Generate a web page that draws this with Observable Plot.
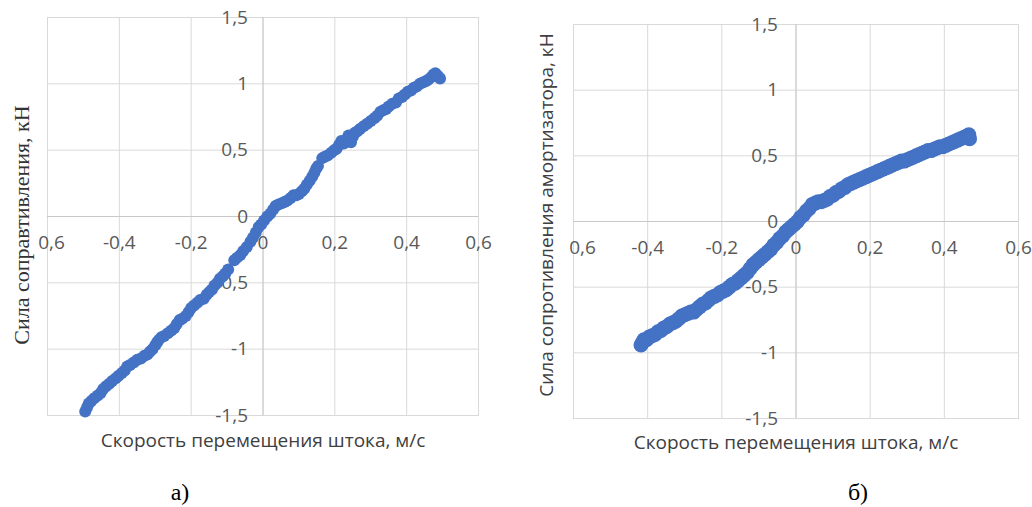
<!DOCTYPE html>
<html>
<head>
<meta charset="utf-8">
<script src="https://cdn.jsdelivr.net/npm/d3@7"></script>
<script src="https://cdn.jsdelivr.net/npm/@observablehq/plot@0.6"></script>
<style>
  html, body { margin: 0; padding: 0; background: #fff; }
  #wrap { position: relative; width: 1032px; height: 507px; overflow: hidden; background: #fff; }
  .panel { position: absolute; top: 0; }
  .cap { position: absolute; font-family: "Liberation Serif", "DejaVu Serif", serif; font-size: 24px; color: #000; transform: translate(-50%, -50%); }
  .ytitle { position: absolute; white-space: nowrap; transform: translate(-50%, -50%) rotate(-90deg); line-height: 1; }
</style>
</head>
<body>
<div id="wrap">
  <div id="pa" class="panel" style="left:0px"></div>
  <div id="pb" class="panel" style="left:520px"></div>
  <div id="ya" class="ytitle" style="left:22px; top:225px; font-family:'Liberation Serif','DejaVu Serif',serif; font-size:22px; color:#333;"></div>
  <div id="yb" class="ytitle" style="left:546px; top:215px; font-family:'Open Sans','Liberation Sans',sans-serif; font-size:19px; color:#404040;"></div>
  <div class="cap" style="left:180px; top:492px">а)</div>
  <div class="cap" style="left:858px; top:492px">б)</div>
</div>
<script>
// ---------- data ----------
const xTickValues = [-0.6, -0.4, -0.2, 0, 0.2, 0.4, 0.6];
const xTickLabels = ["0,6", "-0,4", "-0,2", "0", "0,2", "0,4", "0,6"];
const yTickValues = [-1.5, -1, -0.5, 0, 0.5, 1, 1.5];
const yTickLabels = ["-1,5", "-1", "-0,5", "0", "0,5", "1", "1,5"];

const xTitle = "Скорость перемещения штока, м/с";
const yTitleA = "Сила соправтивления, кН";
const yTitleB = "Сила сопротивления амортизатора, кН";

// Chart а): speed (m/s) vs force (kN)
const speedA = [
  -0.495,-0.49,-0.485,-0.478,-0.47,-0.46,-0.452,-0.445,-0.437,-0.428,-0.42,-0.41,-0.402,-0.393,-0.385,-0.378,-0.37,-0.36,-0.35,-0.34,
  -0.33,-0.322,-0.315,-0.308,-0.3,-0.295,-0.29,-0.283,-0.275,-0.265,-0.255,-0.247,-0.24,-0.232,-0.225,-0.215,-0.207,-0.2,-0.192,-0.183,
  -0.175,-0.165,-0.157,-0.15,-0.142,-0.135,-0.127,-0.12,-0.112,-0.105,-0.097,
  -0.08,-0.072,-0.063,-0.055,-0.045,-0.035,-0.028,
  -0.02,-0.012,-0.005,0.003,0.012,0.02,0.028,0.035,0.043,0.052,0.06,0.068,0.077,0.085,0.093,0.1,0.108,0.115,0.122,0.13,0.137,0.143,0.148,0.153,
  0.165,0.172,0.18,0.19,0.198,0.205,0.212,0.218,0.225,0.232,0.238,0.245,0.25,0.255,0.262,0.27,0.28,0.29,0.3,0.31,0.318,0.327,0.335,0.343,
  0.35,0.36,0.37,0.378,0.387,0.395,0.403,0.412,0.42,0.428,0.437,0.445,0.453,0.46,0.468,0.475,0.48,0.487,0.493
];
const forceA = [
  -1.47,-1.44,-1.41,-1.39,-1.37,-1.35,-1.33,-1.30,-1.28,-1.26,-1.24,-1.22,-1.20,-1.18,-1.16,-1.13,-1.12,-1.10,-1.08,-1.07,
  -1.05,-1.04,-1.02,-1.00,-0.97,-0.95,-0.93,-0.91,-0.90,-0.88,-0.86,-0.84,-0.81,-0.78,-0.77,-0.75,-0.72,-0.69,-0.67,-0.65,
  -0.63,-0.62,-0.59,-0.57,-0.55,-0.52,-0.50,-0.47,-0.45,-0.43,-0.40,
  -0.33,-0.31,-0.29,-0.26,-0.23,-0.19,-0.16,
  -0.12,-0.08,-0.06,-0.03,0.00,0.02,0.05,0.08,0.09,0.10,0.11,0.12,0.14,0.16,0.16,0.17,0.19,0.21,0.24,0.27,0.30,0.33,0.36,0.38,
  0.44,0.45,0.46,0.48,0.50,0.51,0.54,0.57,0.55,0.58,0.61,0.56,0.60,0.63,0.64,0.66,0.68,0.70,0.72,0.74,0.76,0.79,0.80,0.81,
  0.83,0.85,0.86,0.89,0.90,0.92,0.94,0.95,0.97,0.98,1.00,1.01,1.02,1.03,1.05,1.07,1.08,1.06,1.04
];

// Chart б): speed (m/s) vs shock absorber force (kN)
const speedB = [
  -0.418,-0.414,-0.41,-0.403,-0.396,-0.388,-0.38,-0.372,-0.364,-0.356,-0.348,-0.34,-0.332,-0.324,-0.316,-0.308,-0.3,-0.292,-0.284,-0.276,
  -0.268,-0.26,-0.252,-0.244,-0.236,-0.228,-0.22,-0.212,-0.204,-0.196,-0.188,-0.18,-0.172,-0.164,-0.156,-0.148,-0.14,-0.132,-0.124,-0.116,
  -0.108,-0.1,-0.092,-0.084,-0.076,-0.068,-0.06,-0.052,-0.044,-0.036,-0.028,-0.02,-0.012,-0.004,0.004,0.012,0.02,0.028,0.036,0.044,
  0.052,0.06,0.068,0.076,0.084,0.092,0.1,0.108,0.116,0.124,0.132,0.14,0.148,0.156,0.164,0.172,0.18,0.188,0.196,0.204,
  0.212,0.22,0.228,0.236,0.244,0.252,0.26,0.268,0.276,0.284,0.292,0.3,0.308,0.316,0.324,0.332,0.34,0.348,0.356,0.364,
  0.372,0.38,0.388,0.396,0.404,0.412,0.42,0.428,0.436,0.444,0.452,0.46,0.466,0.468
];
const forceB = [
  -0.94,-0.92,-0.90,-0.90,-0.88,-0.87,-0.86,-0.84,-0.83,-0.81,-0.80,-0.78,-0.77,-0.76,-0.74,-0.72,-0.71,-0.70,-0.69,-0.69,
  -0.67,-0.65,-0.63,-0.62,-0.60,-0.58,-0.57,-0.56,-0.54,-0.53,-0.52,-0.50,-0.48,-0.47,-0.45,-0.43,-0.41,-0.39,-0.36,-0.33,
  -0.31,-0.29,-0.27,-0.25,-0.23,-0.21,-0.18,-0.16,-0.13,-0.11,-0.08,-0.06,-0.04,-0.02,0.00,0.03,0.05,0.08,0.10,0.13,
  0.14,0.15,0.15,0.16,0.17,0.19,0.20,0.22,0.23,0.25,0.26,0.28,0.29,0.30,0.31,0.32,0.33,0.34,0.35,0.36,
  0.37,0.38,0.39,0.40,0.41,0.42,0.43,0.44,0.45,0.46,0.46,0.47,0.48,0.49,0.50,0.51,0.52,0.53,0.54,0.54,
  0.55,0.56,0.57,0.57,0.58,0.59,0.60,0.61,0.62,0.63,0.64,0.65,0.66,0.63
];

// ---------- build ----------
const SANS = "'Open Sans', 'Liberation Sans', sans-serif";
const xTicks = xTickValues.map((v, i) => ({v, label: xTickLabels[i]}));
const yTicks = yTickValues.map((v, i) => ({v, label: yTickLabels[i]}));

function chart(o) {
  const pts = o.xs.map((x, i) => ({x, y: o.ys[i]}));
  return Plot.plot({
    width: o.width, height: o.height,
    marginLeft: o.ml, marginRight: o.mr, marginTop: o.mt, marginBottom: o.mb,
    x: {domain: [-0.6, 0.6], axis: null},
    y: {domain: [-1.5, 1.5], axis: null},
    style: {fontFamily: SANS, background: "#fff", overflow: "visible"},
    marks: [
      Plot.gridX(xTickValues, {stroke: "#d9d9d9", strokeOpacity: 1}),
      Plot.gridY(yTickValues, {stroke: "#d9d9d9", strokeOpacity: 1}),
      Plot.frame({stroke: "#d9d9d9"}),
      Plot.ruleX([0], {stroke: "#c8c8c8"}),
      Plot.ruleY([0], {stroke: "#c8c8c8"}),
      Plot.text(xTicks.slice(0, 1), {x: "v", y: () => 0, text: "label", dy: o.xdy, dx: o.x0dx, fill: "#595959", fontSize: 19}),
      Plot.text(xTicks.slice(1), {x: "v", y: () => 0, text: "label", dy: o.xdy, fill: "#595959", fontSize: 19}),
      Plot.text(yTicks, {x: () => 0, y: "v", text: "label", dx: o.ydx, textAnchor: "end", fill: "#595959", fontSize: 19}),
      Plot.text([xTitle], {frameAnchor: "bottom", lineAnchor: "middle", textAnchor: "middle", dy: o.tdy, text: d => d, fill: "#404040", fontSize: 19}),
      Plot.dot(pts, {x: "x", y: "y", r: o.r, fill: "#4472c4", stroke: "none"})
    ]
  });
}

document.getElementById("pa").append(chart({
  xs: speedA, ys: forceA, width: 500, height: 460, ml: 47, mr: 22, mt: 17, mb: 45,
  xdy: 26, x0dx: 4, ydx: -15, tdy: 25, r: 6
}));
document.getElementById("pb").append(chart({
  xs: speedB, ys: forceB, width: 512, height: 470, ml: 53, mr: 14, mt: 24, mb: 52,
  xdy: 26, x0dx: 9, ydx: -18, tdy: 24, r: 7.5
}));
document.getElementById("ya").textContent = yTitleA;
document.getElementById("yb").textContent = yTitleB;
</script>
</body>
</html>
